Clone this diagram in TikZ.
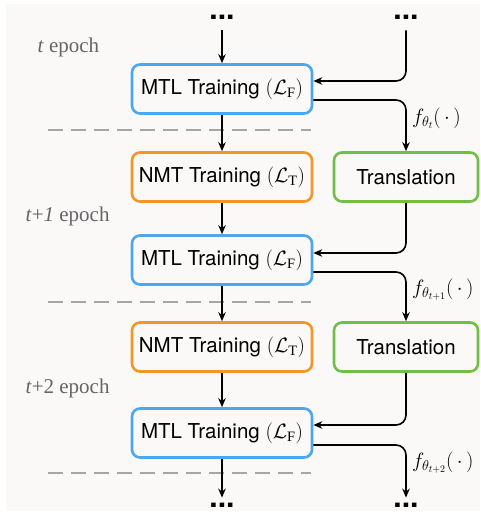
\documentclass[tikz,border=0pt]{standalone}
\usepackage{fontspec}
\setmainfont{Liberation Serif}
\setsansfont{TeX Gyre Heros}
\usetikzlibrary{arrows.meta,positioning,calc}
\definecolor{mtlblue}{RGB}{77,166,240}
\definecolor{nmtorange}{RGB}{243,150,40}
\definecolor{trgreen}{RGB}{115,190,70}
\definecolor{bggray}{RGB}{250,249,247}
\definecolor{epochgray}{RGB}{100,100,105}
\newcommand{\LF}{$(\mathcal{L}_{\mathrm{F}})$}
\newcommand{\LT}{$(\mathcal{L}_{\mathrm{T}})$}

\begin{document}
\begin{tikzpicture}[x=1pt, y=-1pt,
  box/.style={rectangle, rounded corners=8pt, line width=2.6pt, minimum height=49pt, font=\sffamily\fontsize{20.5}{23}\selectfont},
  mtlbox/.style={box, draw=mtlblue, minimum width=180pt},
  nmtbox/.style={box, draw=nmtorange, minimum width=180pt},
  trbox/.style={box, draw=trgreen, minimum width=144pt},
  dots/.style={font=\sffamily\bfseries\fontsize{30}{30}\selectfont, inner sep=0pt},
  arr/.style={-{Stealth[length=9pt, width=7.5pt]}, line width=1.6pt},
  epoch/.style={font=\fontsize{21}{24}\selectfont, text=epochgray, anchor=west},
  flabel/.style={font=\fontsize{20}{22}\selectfont, anchor=west, inner sep=0pt},
  sep/.style={line width=1.6pt, draw=black!35, dash pattern=on 15pt off 8pt},
]
\useasboundingbox (0,0) rectangle (480,513);
\fill[bggray] (6,4) rectangle (480,511);

% ─── Dots at top and bottom ───
\node[dots] (topL) at (222,17) {...};
\node[dots] (topR) at (406,17) {...};
\node[dots] (botL) at (222,505) {...};
\node[dots] (botR) at (406,505) {...};

% ─── Boxes ───
\node[mtlbox] (mtl1) at (222,89) {MTL Training \LF};
\node[nmtbox] (nmt1) at (222,177) {NMT Training \LT};
\node[trbox] (tr1) at (406,177) {Translation};
\node[mtlbox] (mtl2) at (222,260) {MTL Training \LF};
\node[nmtbox] (nmt2) at (222,347) {NMT Training \LT};
\node[trbox] (tr2) at (406,347) {Translation};
\node[mtlbox] (mtl3) at (222,433) {MTL Training \LF};

% Epoch labels
\node[epoch] (ep1) at (34,47) {\textit{t} epoch};
\node[epoch] (ep2) at (22,216) {\textit{t}+\textit{1} epoch};
\node[epoch] (ep3) at (22,388) {\textit{t}+2 epoch};

% Separators
\foreach \y in {130,302,473} {
  \draw[sep] (48,\y) -- (311,\y);
}

% Left column arrows
\draw[arr, shorten <=11pt] (topL) -- (mtl1);
\foreach \u/\v in {mtl1/nmt1, nmt1/mtl2, mtl2/nmt2, nmt2/mtl3} {
  \draw[arr] (\u) -- (\v);
}
\draw[arr, shorten >=5pt] (mtl3) -- (botL);

% Right column arrows
\draw[arr, rounded corners=10pt, shorten <=11pt] (topR.south) |- ([yshift=8pt]mtl1.east);
\draw[arr, rounded corners=10pt] ([yshift=-11pt]mtl1.east) -| (tr1.north);
\draw[arr, rounded corners=10pt] (tr1.south) |- ([yshift=7pt]mtl2.east);
\draw[arr, rounded corners=10pt] ([yshift=-12pt]mtl2.east) -| (tr2.north);
\draw[arr, rounded corners=10pt] (tr2.south) |- ([yshift=8pt]mtl3.east);
\draw[arr, rounded corners=10pt, shorten >=5pt] ([yshift=-12pt]mtl3.east) -| (botR.north);

% Model labels
\node[flabel] (f1) at (412,118) {$f_{\theta_t}(\,\cdot\,)$};
\node[flabel] (f2) at (412,290) {$f_{\theta_{t+1}}(\,\cdot\,)$};
\node[flabel] (f3) at (412,463) {$f_{\theta_{t+2}}(\,\cdot\,)$};

\end{tikzpicture}
\end{document}
